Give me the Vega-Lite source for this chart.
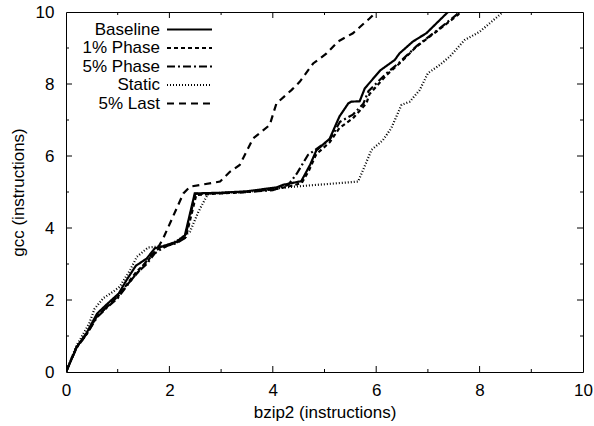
{
  "$schema": "https://vega.github.io/schema/vega-lite/v6.json",
  "width": 517,
  "height": 360,
  "autosize": "none",
  "padding": {"left": 66, "top": 12, "right": 11, "bottom": 54},
  "background": "white",
  "config": {
    "font": "Liberation Sans",
    "view": {"stroke": "black", "strokeWidth": 1},
    "axis": {
      "grid": false,
      "domain": false,
      "ticks": false,
      "tickSize": 0,
      "labelColor": "black",
      "titleColor": "black",
      "labelFont": "Liberation Sans",
      "titleFont": "Liberation Sans",
      "labelFontSize": 17,
      "titleFontSize": 17,
      "titleFontWeight": "normal"
    }
  },
  "datasets": {
    "curves": [
      {"series": "Baseline", "x": 0, "y": 0},
      {"series": "Baseline", "x": 0.21, "y": 0.7},
      {"series": "Baseline", "x": 0.4, "y": 1.09},
      {"series": "Baseline", "x": 0.6, "y": 1.62},
      {"series": "Baseline", "x": 0.79, "y": 1.88},
      {"series": "Baseline", "x": 1.02, "y": 2.18},
      {"series": "Baseline", "x": 1.17, "y": 2.55},
      {"series": "Baseline", "x": 1.35, "y": 2.95},
      {"series": "Baseline", "x": 1.56, "y": 3.15},
      {"series": "Baseline", "x": 1.72, "y": 3.44},
      {"series": "Baseline", "x": 1.85, "y": 3.48},
      {"series": "Baseline", "x": 1.95, "y": 3.53},
      {"series": "Baseline", "x": 2.14, "y": 3.62},
      {"series": "Baseline", "x": 2.3, "y": 3.8},
      {"series": "Baseline", "x": 2.49, "y": 4.96},
      {"series": "Baseline", "x": 3.0, "y": 4.98},
      {"series": "Baseline", "x": 3.5, "y": 5.02},
      {"series": "Baseline", "x": 4.08, "y": 5.13},
      {"series": "Baseline", "x": 4.2, "y": 5.2},
      {"series": "Baseline", "x": 4.55, "y": 5.3},
      {"series": "Baseline", "x": 4.72, "y": 5.75},
      {"series": "Baseline", "x": 4.84, "y": 6.15},
      {"series": "Baseline", "x": 5.1, "y": 6.48},
      {"series": "Baseline", "x": 5.29, "y": 7.1},
      {"series": "Baseline", "x": 5.46, "y": 7.46},
      {"series": "Baseline", "x": 5.52, "y": 7.51},
      {"series": "Baseline", "x": 5.68, "y": 7.52},
      {"series": "Baseline", "x": 5.78, "y": 7.88},
      {"series": "Baseline", "x": 6.08, "y": 8.38},
      {"series": "Baseline", "x": 6.36, "y": 8.67},
      {"series": "Baseline", "x": 6.45, "y": 8.85},
      {"series": "Baseline", "x": 6.71, "y": 9.18},
      {"series": "Baseline", "x": 6.97, "y": 9.41},
      {"series": "Baseline", "x": 7.36, "y": 9.96},
      {"series": "Baseline", "x": 7.39, "y": 10},
      {"series": "1% Phase", "x": 0, "y": 0},
      {"series": "1% Phase", "x": 0.2, "y": 0.68},
      {"series": "1% Phase", "x": 0.4, "y": 1.06},
      {"series": "1% Phase", "x": 0.6, "y": 1.55},
      {"series": "1% Phase", "x": 0.8, "y": 1.82},
      {"series": "1% Phase", "x": 1.0, "y": 2.08},
      {"series": "1% Phase", "x": 1.17, "y": 2.42},
      {"series": "1% Phase", "x": 1.37, "y": 2.8},
      {"series": "1% Phase", "x": 1.56, "y": 3.05},
      {"series": "1% Phase", "x": 1.72, "y": 3.35},
      {"series": "1% Phase", "x": 1.82, "y": 3.45},
      {"series": "1% Phase", "x": 1.95, "y": 3.5},
      {"series": "1% Phase", "x": 2.14, "y": 3.6},
      {"series": "1% Phase", "x": 2.32, "y": 3.75},
      {"series": "1% Phase", "x": 2.52, "y": 4.92},
      {"series": "1% Phase", "x": 3.0, "y": 4.96},
      {"series": "1% Phase", "x": 3.5, "y": 5.0},
      {"series": "1% Phase", "x": 4.0, "y": 5.07},
      {"series": "1% Phase", "x": 4.3, "y": 5.15},
      {"series": "1% Phase", "x": 4.56, "y": 5.25},
      {"series": "1% Phase", "x": 4.7, "y": 5.6},
      {"series": "1% Phase", "x": 4.84, "y": 6.05},
      {"series": "1% Phase", "x": 5.1, "y": 6.38},
      {"series": "1% Phase", "x": 5.29, "y": 6.78},
      {"series": "1% Phase", "x": 5.55, "y": 7.05},
      {"series": "1% Phase", "x": 5.81, "y": 7.46},
      {"series": "1% Phase", "x": 5.87, "y": 7.72},
      {"series": "1% Phase", "x": 6.2, "y": 8.25},
      {"series": "1% Phase", "x": 6.45, "y": 8.57},
      {"series": "1% Phase", "x": 6.78, "y": 9.04},
      {"series": "1% Phase", "x": 7.16, "y": 9.45},
      {"series": "1% Phase", "x": 7.58, "y": 9.92},
      {"series": "1% Phase", "x": 7.63, "y": 10},
      {"series": "5% Phase", "x": 0, "y": 0},
      {"series": "5% Phase", "x": 0.2, "y": 0.66},
      {"series": "5% Phase", "x": 0.4, "y": 1.05},
      {"series": "5% Phase", "x": 0.6, "y": 1.52},
      {"series": "5% Phase", "x": 0.8, "y": 1.8},
      {"series": "5% Phase", "x": 1.0, "y": 2.05},
      {"series": "5% Phase", "x": 1.17, "y": 2.38},
      {"series": "5% Phase", "x": 1.37, "y": 2.75},
      {"series": "5% Phase", "x": 1.56, "y": 3.0},
      {"series": "5% Phase", "x": 1.72, "y": 3.3},
      {"series": "5% Phase", "x": 1.85, "y": 3.42},
      {"series": "5% Phase", "x": 1.95, "y": 3.5},
      {"series": "5% Phase", "x": 2.14, "y": 3.58},
      {"series": "5% Phase", "x": 2.3, "y": 3.72},
      {"series": "5% Phase", "x": 2.5, "y": 4.95},
      {"series": "5% Phase", "x": 3.0, "y": 4.97},
      {"series": "5% Phase", "x": 3.5, "y": 5.0},
      {"series": "5% Phase", "x": 4.0, "y": 5.05},
      {"series": "5% Phase", "x": 4.3, "y": 5.2},
      {"series": "5% Phase", "x": 4.46, "y": 5.5},
      {"series": "5% Phase", "x": 4.68, "y": 6.03},
      {"series": "5% Phase", "x": 4.9, "y": 6.25},
      {"series": "5% Phase", "x": 5.1, "y": 6.45},
      {"series": "5% Phase", "x": 5.3, "y": 6.95},
      {"series": "5% Phase", "x": 5.55, "y": 7.15},
      {"series": "5% Phase", "x": 5.75, "y": 7.45},
      {"series": "5% Phase", "x": 5.85, "y": 7.8},
      {"series": "5% Phase", "x": 6.2, "y": 8.3},
      {"series": "5% Phase", "x": 6.45, "y": 8.6},
      {"series": "5% Phase", "x": 6.78, "y": 9.05},
      {"series": "5% Phase", "x": 7.16, "y": 9.47},
      {"series": "5% Phase", "x": 7.55, "y": 9.92},
      {"series": "5% Phase", "x": 7.6, "y": 10},
      {"series": "Static", "x": 0, "y": 0},
      {"series": "Static", "x": 0.2, "y": 0.72},
      {"series": "Static", "x": 0.45, "y": 1.35},
      {"series": "Static", "x": 0.55, "y": 1.75},
      {"series": "Static", "x": 0.72, "y": 2.05},
      {"series": "Static", "x": 0.91, "y": 2.23},
      {"series": "Static", "x": 1.04, "y": 2.37},
      {"series": "Static", "x": 1.24, "y": 2.83},
      {"series": "Static", "x": 1.37, "y": 3.2},
      {"series": "Static", "x": 1.59, "y": 3.46},
      {"series": "Static", "x": 1.75, "y": 3.48},
      {"series": "Static", "x": 2.01, "y": 3.53},
      {"series": "Static", "x": 2.27, "y": 3.76},
      {"series": "Static", "x": 2.4, "y": 3.9},
      {"series": "Static", "x": 2.56, "y": 4.45},
      {"series": "Static", "x": 2.75, "y": 4.96},
      {"series": "Static", "x": 3.56, "y": 5.01},
      {"series": "Static", "x": 4.26, "y": 5.13},
      {"series": "Static", "x": 5.65, "y": 5.29},
      {"series": "Static", "x": 5.91, "y": 6.17},
      {"series": "Static", "x": 6.13, "y": 6.44},
      {"series": "Static", "x": 6.29, "y": 6.77},
      {"series": "Static", "x": 6.49, "y": 7.42},
      {"series": "Static", "x": 6.65, "y": 7.51},
      {"series": "Static", "x": 6.84, "y": 7.83},
      {"series": "Static", "x": 7.0, "y": 8.3},
      {"series": "Static", "x": 7.23, "y": 8.53},
      {"series": "Static", "x": 7.42, "y": 8.76},
      {"series": "Static", "x": 7.71, "y": 9.22},
      {"series": "Static", "x": 8.0, "y": 9.45},
      {"series": "Static", "x": 8.42, "y": 9.96},
      {"series": "Static", "x": 8.45, "y": 10},
      {"series": "5% Last", "x": 0, "y": 0},
      {"series": "5% Last", "x": 0.2, "y": 0.68},
      {"series": "5% Last", "x": 0.4, "y": 1.06},
      {"series": "5% Last", "x": 0.6, "y": 1.55},
      {"series": "5% Last", "x": 0.8, "y": 1.82},
      {"series": "5% Last", "x": 1.0, "y": 2.1},
      {"series": "5% Last", "x": 1.2, "y": 2.45},
      {"series": "5% Last", "x": 1.4, "y": 2.78},
      {"series": "5% Last", "x": 1.62, "y": 3.2},
      {"series": "5% Last", "x": 1.75, "y": 3.38},
      {"series": "5% Last", "x": 1.88, "y": 3.71},
      {"series": "5% Last", "x": 2.27, "y": 4.96},
      {"series": "5% Last", "x": 2.4, "y": 5.15},
      {"series": "5% Last", "x": 2.98, "y": 5.29},
      {"series": "5% Last", "x": 3.17, "y": 5.56},
      {"series": "5% Last", "x": 3.36, "y": 5.75},
      {"series": "5% Last", "x": 3.62, "y": 6.49},
      {"series": "5% Last", "x": 3.94, "y": 6.86},
      {"series": "5% Last", "x": 4.07, "y": 7.46},
      {"series": "5% Last", "x": 4.36, "y": 7.83},
      {"series": "5% Last", "x": 4.52, "y": 8.06},
      {"series": "5% Last", "x": 4.78, "y": 8.57},
      {"series": "5% Last", "x": 5.04, "y": 8.85},
      {"series": "5% Last", "x": 5.26, "y": 9.18},
      {"series": "5% Last", "x": 5.55, "y": 9.41},
      {"series": "5% Last", "x": 5.87, "y": 9.82},
      {"series": "5% Last", "x": 6.0, "y": 10}
    ],
    "ticks": [
      {"v": 1, "kind": "minor"},
      {"v": 2, "kind": "major"},
      {"v": 3, "kind": "minor"},
      {"v": 4, "kind": "major"},
      {"v": 5, "kind": "minor"},
      {"v": 6, "kind": "major"},
      {"v": 7, "kind": "minor"},
      {"v": 8, "kind": "major"},
      {"v": 9, "kind": "minor"}
    ]
  },
  "layer": [
    {
      "data": {"name": "curves"},
      "mark": {"type": "line", "clip": true, "color": "black"},
      "encoding": {
        "x": {
          "field": "x", "type": "quantitative",
          "title": "bzip2 (instructions)",
          "scale": {"domain": [0, 10], "nice": false},
          "axis": {
            "orient": "bottom",
            "values": [0, 2, 4, 6, 8, 10],
            "labelPadding": 10,
            "titlePadding": 6,
            "labelFlush": false
          }
        },
        "y": {
          "field": "y", "type": "quantitative",
          "title": "gcc (instructions)",
          "scale": {"domain": [0, 10], "nice": false},
          "axis": {
            "orient": "left",
            "values": [0, 2, 4, 6, 8, 10],
            "labelPadding": 12,
            "titlePadding": 8,
            "labelFlush": false
          }
        },
        "strokeDash": {
          "field": "series", "type": "nominal",
          "scale": {
            "domain": ["Baseline", "1% Phase", "5% Phase", "Static", "5% Last"],
            "range": [[1, 0], [4, 3], [8, 3, 2, 3], [1, 2], [7, 5]]
          },
          "legend": {
            "orient": "none",
            "legendX": 115,
            "legendY": 9,
            "title": null,
            "symbolType": "M-4,0H4",
            "symbolSize": 126.6,
            "symbolStrokeColor": "black",
            "symbolFillColor": "transparent",
            "labelAlign": "right",
            "labelOffset": -38,
            "labelFontSize": 17,
            "labelColor": "black",
            "labelFont": "Liberation Sans",
            "rowPadding": 0.5,
            "padding": 0
          }
        },
        "strokeWidth": {
          "field": "series", "type": "nominal",
          "scale": {
            "domain": ["Baseline", "1% Phase", "5% Phase", "Static", "5% Last"],
            "range": [2.2, 2.2, 1, 1, 1]
          },
          "legend": {
            "orient": "none",
            "legendX": 115,
            "legendY": 9,
            "title": null,
            "symbolType": "M-4,0H4",
            "symbolSize": 126.6,
            "symbolStrokeColor": "black",
            "symbolFillColor": "transparent",
            "labelAlign": "right",
            "labelOffset": -38,
            "labelFontSize": 17,
            "labelColor": "black",
            "labelFont": "Liberation Sans",
            "rowPadding": 0.5,
            "padding": 0
          }
        }
      }
    },
    {
      "data": {"name": "ticks"},
      "transform": [{"filter": "datum.kind === 'major'"}],
      "mark": {"type": "rule", "color": "black", "strokeWidth": 1, "y2Offset": -6},
      "encoding": {
        "x": {"field": "v", "type": "quantitative", "title": "bzip2 (instructions)"},
        "y": {"datum": 0, "type": "quantitative", "title": "gcc (instructions)"},
        "y2": {"datum": 0}
      }
    },
    {
      "data": {"name": "ticks"},
      "transform": [{"filter": "datum.kind === 'minor'"}],
      "mark": {"type": "rule", "color": "black", "strokeWidth": 1, "y2Offset": -3},
      "encoding": {
        "x": {"field": "v", "type": "quantitative", "title": "bzip2 (instructions)"},
        "y": {"datum": 0, "type": "quantitative", "title": "gcc (instructions)"},
        "y2": {"datum": 0}
      }
    },
    {
      "data": {"name": "ticks"},
      "transform": [{"filter": "datum.kind === 'major'"}],
      "mark": {"type": "rule", "color": "black", "strokeWidth": 1, "y2Offset": 6},
      "encoding": {
        "x": {"field": "v", "type": "quantitative", "title": "bzip2 (instructions)"},
        "y": {"datum": 10, "type": "quantitative", "title": "gcc (instructions)"},
        "y2": {"datum": 10}
      }
    },
    {
      "data": {"name": "ticks"},
      "transform": [{"filter": "datum.kind === 'minor'"}],
      "mark": {"type": "rule", "color": "black", "strokeWidth": 1, "y2Offset": 3},
      "encoding": {
        "x": {"field": "v", "type": "quantitative", "title": "bzip2 (instructions)"},
        "y": {"datum": 10, "type": "quantitative", "title": "gcc (instructions)"},
        "y2": {"datum": 10}
      }
    },
    {
      "data": {"name": "ticks"},
      "transform": [{"filter": "datum.kind === 'major'"}],
      "mark": {"type": "rule", "color": "black", "strokeWidth": 1, "x2Offset": 6},
      "encoding": {
        "y": {"field": "v", "type": "quantitative", "title": "gcc (instructions)"},
        "x": {"datum": 0, "type": "quantitative", "title": "bzip2 (instructions)"},
        "x2": {"datum": 0}
      }
    },
    {
      "data": {"name": "ticks"},
      "transform": [{"filter": "datum.kind === 'minor'"}],
      "mark": {"type": "rule", "color": "black", "strokeWidth": 1, "x2Offset": 3},
      "encoding": {
        "y": {"field": "v", "type": "quantitative", "title": "gcc (instructions)"},
        "x": {"datum": 0, "type": "quantitative", "title": "bzip2 (instructions)"},
        "x2": {"datum": 0}
      }
    },
    {
      "data": {"name": "ticks"},
      "transform": [{"filter": "datum.kind === 'major'"}],
      "mark": {"type": "rule", "color": "black", "strokeWidth": 1, "x2Offset": -6},
      "encoding": {
        "y": {"field": "v", "type": "quantitative", "title": "gcc (instructions)"},
        "x": {"datum": 10, "type": "quantitative", "title": "bzip2 (instructions)"},
        "x2": {"datum": 10}
      }
    },
    {
      "data": {"name": "ticks"},
      "transform": [{"filter": "datum.kind === 'minor'"}],
      "mark": {"type": "rule", "color": "black", "strokeWidth": 1, "x2Offset": -3},
      "encoding": {
        "y": {"field": "v", "type": "quantitative", "title": "gcc (instructions)"},
        "x": {"datum": 10, "type": "quantitative", "title": "bzip2 (instructions)"},
        "x2": {"datum": 10}
      }
    }
  ]
}
